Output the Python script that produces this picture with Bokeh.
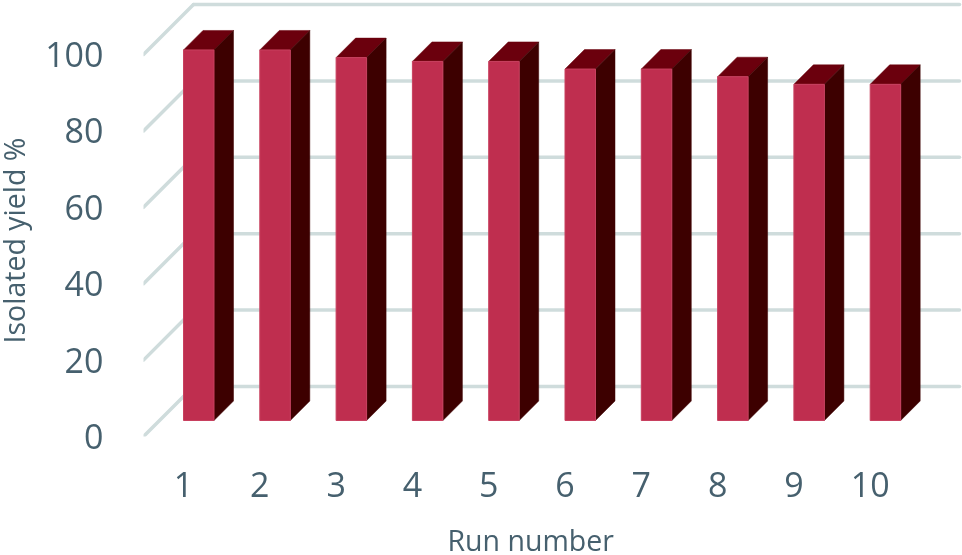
from bokeh.embed import file_html
from bokeh.resources import INLINE
from bokeh.plotting import figure
from bokeh.models import Range1d, FixedTicker, Title

runs = [1, 2, 3, 4, 5, 6, 7, 8, 9, 10]
yields = [97, 97, 95, 94, 94, 92, 92, 90, 88, 88]
y_ticks = [0, 20, 40, 60, 80, 100]

PX_X = 76.3
PX_Y = 3.82
SHIFT = 19          # canvas starts this far left of the window
W, H = 962 + SHIFT, 590
FRAME_H = 436
LEFT, BOTTOM = 143 + SHIFT, H - FRAME_H
X0 = 183
x_px = lambda px: px / PX_X
y_px = lambda px: px / PX_Y
x_at = lambda px: 1 + (px - X0) / PX_X

p = figure(width=W, height=H, output_backend="svg", toolbar_location=None,
           x_range=Range1d(x_at(143), x_at(962)),
           y_range=Range1d(0, FRAME_H / PX_Y),
           min_border_left=LEFT, min_border_bottom=BOTTOM, min_border_top=0, min_border_right=0,
           outline_line_color=None, background_fill_color="white", border_fill_color="white")
p.styles = {"position": "fixed", "left": f"-{SHIFT}px", "top": "0px"}
p.grid.visible = False

TXT = "#46606e"
GRID = "#cfdcdc"
FONT = "Open Sans"

# back wall and left wall lines
wall_dx, wall_dy = x_px(50), y_px(50)
x_start = p.x_range.start
x_end = x_at(959)
p.segment(x0=[x_start] * len(y_ticks), y0=y_ticks,
          x1=[x_start + wall_dx] * len(y_ticks), y1=[t + wall_dy for t in y_ticks],
          line_color=GRID, line_width=3.5, line_cap="round")
p.segment(x0=[x_start + wall_dx] * len(y_ticks), y0=[t + wall_dy for t in y_ticks],
          x1=[x_end] * len(y_ticks), y1=[t + wall_dy for t in y_ticks],
          line_color=GRID, line_width=3.5, line_cap="round")

# 3D bars
bw = x_px(30.5)
floor = y_px(16)
dx, dy = x_px(19.5), y_px(19.5)
L = runs
R = [r + bw for r in runs]
T = [floor + v for v in yields]
p.patches(xs=[[r, r + bw, r + bw + dx, r + dx] for r in runs],
          ys=[[t, t, t + dy, t + dy] for t in T],
          fill_color="#6b000d", line_color="#6b000d", line_width=0.5)
p.patches(xs=[[r, r + dx, r + dx, r] for r in R],
          ys=[[floor, floor + dy, t + dy, t] for t in T],
          fill_color="#3d0000", line_color="#3d0000", line_width=0.5)
p.quad(left=L, right=R, bottom=floor, top=T,
       fill_color="#bf2e4f", line_color="#c8405f", line_width=1)

# axes
xa = p.xaxis[0]
xa.ticker = FixedTicker(ticks=runs)
xa.major_label_text_font = FONT
xa.major_label_text_font_size = "34px"
xa.major_label_text_color = TXT
xa.major_label_standoff = 29
xa.axis_line_color = None
xa.major_tick_line_color = None
xa.minor_tick_line_color = None

ya = p.yaxis[0]
ya.ticker = FixedTicker(ticks=y_ticks)
ya.major_label_text_font = FONT
ya.major_label_text_font_size = "34px"
ya.major_label_text_color = TXT
ya.major_label_standoff = 34
ya.axis_line_color = None
ya.major_tick_line_color = None
ya.minor_tick_line_color = None

# axis titles sit off-centre in the reference: side titles with an offset
p.add_layout(Title(text="Run number", text_font=FONT, text_font_size="28.5px",
                   text_font_style="normal", text_color=TXT, align="left",
                   offset=304, standoff=39), "below")
p.add_layout(Title(text="Isolated yield %", text_font=FONT, text_font_size="28.5px",
                   text_font_style="normal", text_color=TXT, align="left",
                   offset=93, standoff=19), "left")

open("out.html", "w").write(file_html(p, INLINE))
